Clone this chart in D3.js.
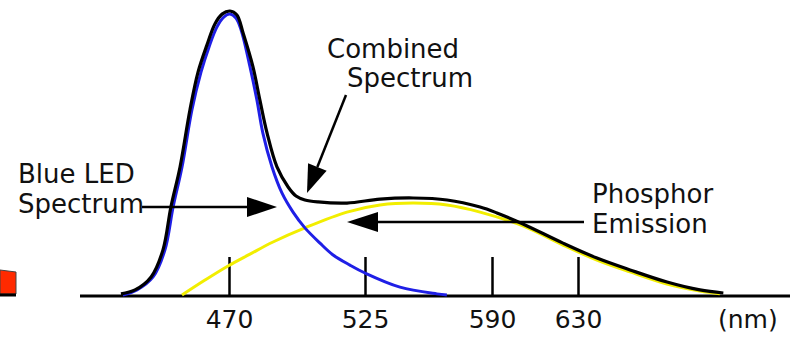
<!DOCTYPE html>
<html>
<head>
<meta charset="utf-8">
<script src="https://cdn.jsdelivr.net/npm/d3@7"></script>
<style>
  body { margin: 0; background: #fff; }
  svg { display: block; font-family: "DejaVu Sans", Verdana, sans-serif; }
</style>
</head>
<body>
<svg width="790" height="338"></svg>
<script>
// wavelength ticks (nm) - the axis in the picture is not evenly spaced
const tickValues = [470, 525, 590, 630];

// [wavelength nm, relative intensity]
const blueLed = [
  [427.1, 0], [432.8, 0.018], [439.3, 0.064], [444.1, 0.16], [447.4, 0.312],
  [451, 0.454], [455, 0.656], [458.7, 0.791], [461.9, 0.879], [465.1, 0.95],
  [468, 0.986], [470.4, 0.996], [472.8, 0.982], [474.9, 0.94], [478.5, 0.809],
  [481.3, 0.691], [483.7, 0.574], [487.4, 0.454], [491.4, 0.362], [495.9, 0.294],
  [500.7, 0.238], [506.8, 0.184], [512.1, 0.142], [518.9, 0.106], [525, 0.078],
  [542.9, 0.028], [561.8, 0.004], [566.9, 0]
];

const phosphor = [
  [451, 0], [460.3, 0.053], [469.6, 0.103], [478.5, 0.145], [487.8, 0.188],
  [500.7, 0.238], [517.7, 0.294], [532.7, 0.319], [549.6, 0.326], [567, 0.319],
  [583.9, 0.294], [604.4, 0.245], [623, 0.177], [638.8, 0.124], [654.2, 0.082],
  [671.4, 0.039], [686.7, 0.014], [696, 0.004]
];

const combined = [
  [426.3, 0.004], [432, 0.018], [438.5, 0.064], [443.3, 0.16], [446.5, 0.312],
  [450.2, 0.454], [454.2, 0.656], [457.5, 0.791], [461.1, 0.887], [464.3, 0.961],
  [467.2, 0.996], [470.4, 1.007], [473.2, 0.993], [475.7, 0.929], [479.7, 0.809],
  [482.5, 0.691], [485.4, 0.574], [489.4, 0.454], [493.9, 0.383], [497.1, 0.351],
  [500.7, 0.337], [506, 0.33], [517.7, 0.326], [532.7, 0.34], [549.6, 0.344],
  [567, 0.337], [583.9, 0.312], [592.3, 0.291], [604.4, 0.252], [623, 0.184],
  [638.8, 0.131], [654.2, 0.089], [671.4, 0.046], [686.7, 0.018], [697.6, 0.007]
];

const svg = d3.select('svg');
const axisY = 296;

// piecewise scale so the ticks land where the drawing puts them
const x = d3.scaleLinear()
  .domain(tickValues)
  .range([229, 365, 492, 578]);

const y = d3.scaleLinear()
  .domain([0, 1])
  .range([295, 13]);

const line = d3.line()
  .x(d => x(d[0]))
  .y(d => y(d[1]))
  .curve(d3.curveCatmullRom.alpha(0.5));

// red thing cut off at the left edge
svg.append('path')
  .attr('d', 'M0,270 L16,272 L16,294 L0,294 Z')
  .attr('fill', '#ff2a00')
  .attr('stroke', '#444')
  .attr('stroke-width', 1);
svg.append('line')
  .attr('x1', 0).attr('x2', 16)
  .attr('y1', 295).attr('y2', 295)
  .attr('stroke', '#000').attr('stroke-width', 3);

// baseline
svg.append('line')
  .attr('x1', 80).attr('x2', 790)
  .attr('y1', axisY).attr('y2', axisY)
  .attr('stroke', '#000').attr('stroke-width', 3);

const axis = d3.axisBottom(x)
  .tickValues(tickValues)
  .tickSize(-39)
  .tickPadding(14)
  .tickFormat(d3.format('d'));

const gAxis = svg.append('g')
  .attr('transform', `translate(0,${axisY})`)
  .call(axis);
gAxis.select('.domain').remove();
gAxis.selectAll('.tick line').attr('stroke', '#000').attr('stroke-width', 2.5);
gAxis.selectAll('.tick text')
  .attr('fill', '#111')
  .style('font-size', '25px')
  .style('font-family', '"DejaVu Sans", Verdana, sans-serif');

svg.append('text')
  .attr('x', 718).attr('y', 328)
  .attr('fill', '#111')
  .style('font-size', '25px')
  .text('(nm)');

// curves
svg.append('path')
  .datum(phosphor)
  .attr('d', line)
  .attr('fill', 'none')
  .attr('stroke', '#f2ee00')
  .attr('stroke-width', 3);

svg.append('path')
  .datum(blueLed)
  .attr('d', line)
  .attr('fill', 'none')
  .attr('stroke', '#1f1fe6')
  .attr('stroke-width', 3);

svg.append('path')
  .datum(combined)
  .attr('d', line)
  .attr('fill', 'none')
  .attr('stroke', '#000')
  .attr('stroke-width', 3.2);

// annotation arrows
function arrow(x1, y1, x2, y2, len, half) {
  const a = Math.atan2(y2 - y1, x2 - x1);
  const bx = x2 - len * Math.cos(a), by = y2 - len * Math.sin(a);
  svg.append('line')
    .attr('x1', x1).attr('y1', y1).attr('x2', bx).attr('y2', by)
    .attr('stroke', '#000').attr('stroke-width', 2.5);
  const px = -Math.sin(a) * half, py = Math.cos(a) * half;
  svg.append('path')
    .attr('d', `M${x2},${y2}L${bx + px},${by + py}L${bx - px},${by - py}Z`)
    .attr('fill', '#000');
}

arrow(142, 207, 277, 207, 30, 10);
arrow(584, 222, 347, 222, 31, 10);
arrow(346, 95, 307, 193, 28, 10);

function label(lines, xs, ys) {
  lines.forEach((t, i) => {
    svg.append('text')
      .attr('x', xs[i]).attr('y', ys[i])
      .attr('fill', '#111')
      .style('font-size', '26px')
      .text(t);
  });
}

label(['Blue LED', 'Spectrum'], [18, 18], [183, 213]);
label(['Combined', 'Spectrum'], [327, 347], [58, 87]);
label(['Phosphor', 'Emission'], [592, 592], [203, 233]);
</script>
</body>
</html>
